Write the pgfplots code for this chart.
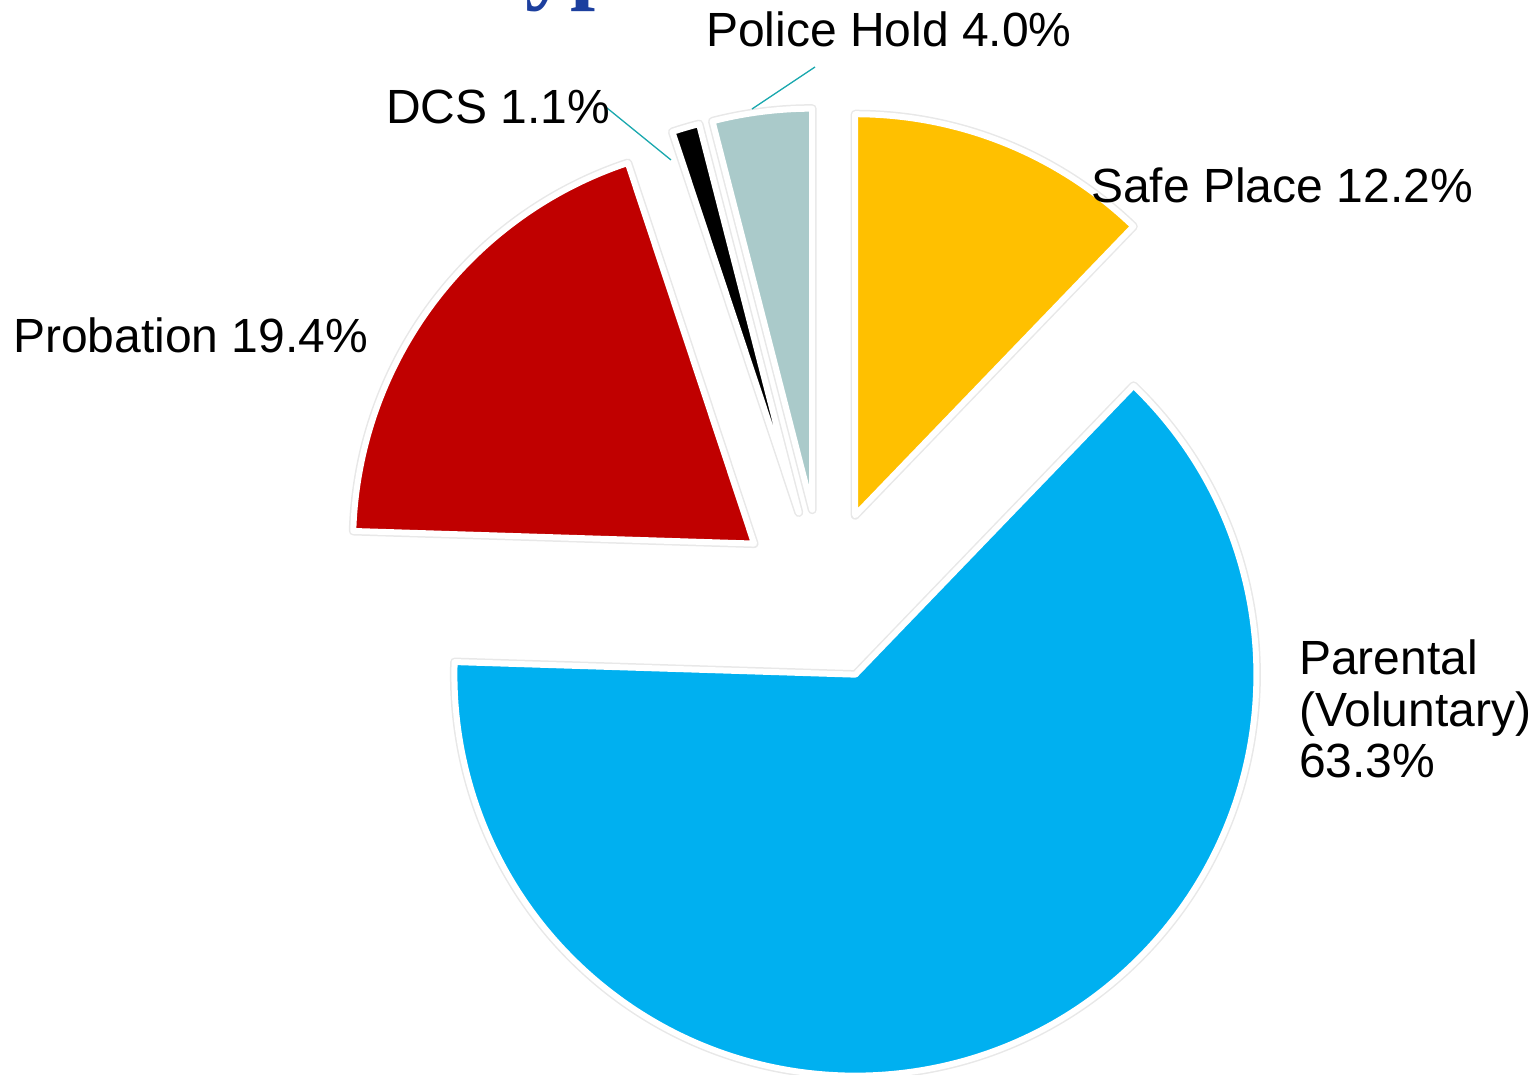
\documentclass[border=0pt]{standalone}
\usepackage{pgfplots}
\pgfplotsset{compat=1.18}
\usepackage{fontspec}
\setmainfont{Liberation Sans}
\newfontfamily\titlefont{Liberation Serif}
\definecolor{cBlue}{HTML}{00B0F0}
\definecolor{cYellow}{HTML}{FFC000}
\definecolor{cRed}{HTML}{C00000}
\definecolor{cGray}{HTML}{AACACA}
\definecolor{cLead}{HTML}{1AA8AE}
\definecolor{cTitle}{HTML}{1C3F9E}

% data (percent), clockwise from 12 o'clock
\def\vSafe{12.2}
\def\vParent{63.3}
\def\vProb{19.4}
\def\vDCS{1.1}
\def\vPolice{4.0}

\pgfmathsetmacro\aA{90}
\pgfmathsetmacro\aB{\aA-3.6*\vSafe}
\pgfmathsetmacro\aC{\aB-3.6*\vParent}
\pgfmathsetmacro\aD{\aC-3.6*\vProb}
\pgfmathsetmacro\aE{\aD-3.6*\vDCS}
\pgfmathsetmacro\aF{\aE-3.6*\vPolice}

\def\Cx{823}\def\Cy{480}\def\R{401}\def\D{86}

\newcommand\slice[3]{%
  \pgfmathsetmacro\m{(#1+#2)/2}%
  \pgfmathsetmacro\px{\Cx+\D*cos(\m)}%
  \pgfmathsetmacro\py{\Cy+\D*sin(\m)}%
  \edef\doslice{%
    \noexpand\draw[gray!18,line width=9pt,line join=round] (axis cs:\px,\py) -- ++(#1:\R pt) arc[start angle=#1,end angle=#2,radius=\R pt] -- cycle;
    \noexpand\filldraw[fill=#3,draw=white,line width=6pt,line join=round] (axis cs:\px,\py) -- ++(#1:\R pt) arc[start angle=#1,end angle=#2,radius=\R pt] -- cycle;}%
  \doslice}

\begin{document}
\begin{tikzpicture}
\begin{axis}[x=1pt,y=1pt,xmin=0,xmax=1538,ymin=0,ymax=1075,
  hide axis,clip=false,scale only axis]
\slice{\aA}{\aB}{cYellow}
\slice{\aB}{\aC}{cBlue}
\slice{\aC}{\aD}{cRed}
\slice{\aD}{\aE}{black}
\slice{\aE}{\aF}{cGray}

\draw[cLead,line width=1.3pt] (axis cs:607,967) -- (axis cs:671,915);
\draw[cLead,line width=1.3pt] (axis cs:815,1008) -- (axis cs:752,966);

\tikzset{lbl/.style={anchor=base west,inner sep=0pt,font=\fontsize{48}{52}\selectfont}}
\node[lbl] at (axis cs:706,1028) {Police Hold 4.0\%};
\node[lbl] at (axis cs:386,951) {DCS 1.1\%};
\node[lbl] at (axis cs:1091,872) {Safe Place 12.2\%};
\node[lbl] at (axis cs:13,722) {Probation 19.4\%};
\node[lbl] at (axis cs:1299,400) {Parental};
\node[lbl] at (axis cs:1299,348.5) {(Voluntary)};
\node[lbl] at (axis cs:1299,297) {63.3\%};

\node[overlay,anchor=base west,inner sep=0pt,text=cTitle,
  font=\titlefont\bfseries\fontsize{90}{90}\selectfont] at (axis cs:472,1082) {Types};
\end{axis}
\pgfresetboundingbox
\useasboundingbox (current axis.south west) rectangle (current axis.north east);
\end{tikzpicture}
\end{document}
